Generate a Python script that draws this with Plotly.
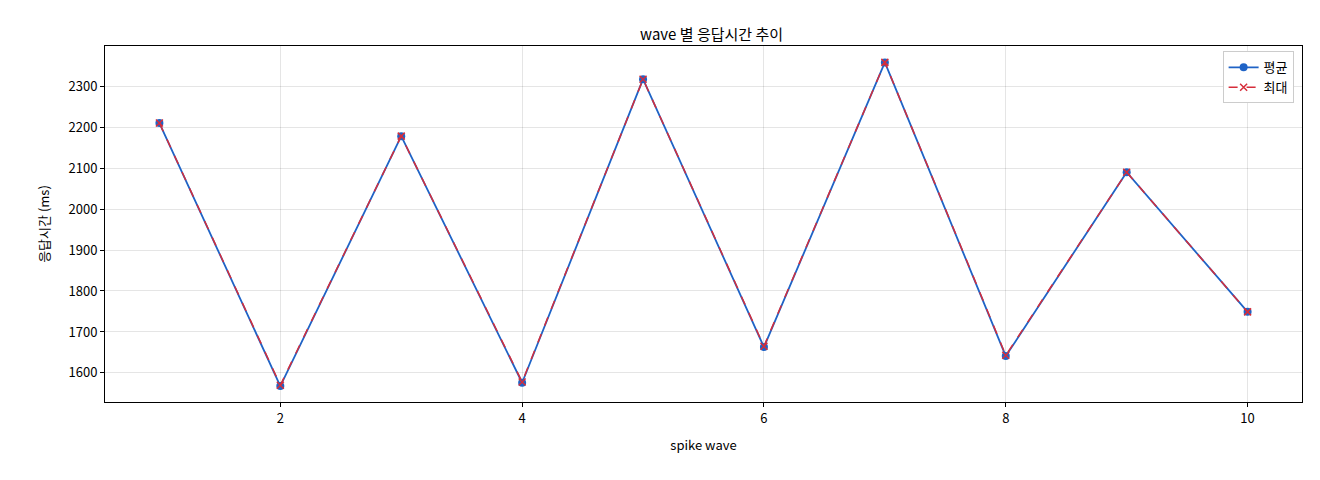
import plotly.graph_objects as go

# wave 별 응답시간
waves = [1, 2, 3, 4, 5, 6, 7, 8, 9, 10]
avg_ms = [2210, 1568, 2178, 1576, 2317, 1663, 2358, 1641, 2090, 1749]
max_ms = [2210, 1570, 2178, 1578, 2317, 1665, 2358, 1643, 2090, 1749]

font = "Noto Sans CJK KR"

fig = go.Figure()
fig.add_trace(go.Scatter(x=waves, y=avg_ms, name="평균", mode="lines+markers",
                         line=dict(color="#1f63c6", width=1.8),
                         marker=dict(symbol="circle", size=8, color="#1f63c6")))
fig.add_trace(go.Scatter(x=waves, y=max_ms, name="최대", mode="lines+markers",
                         line=dict(color="#d62d3a", width=1.5, dash="dash"),
                         marker=dict(symbol="x-thin", size=7,
                                     line=dict(color="#d62d3a", width=1.5))))

axis = dict(showline=True, mirror=True, linecolor="black", linewidth=1,
            ticks="outside", ticklen=4, tickcolor="black",
            showgrid=True, gridcolor="rgba(0,0,0,0.1)", zeroline=False,
            tickfont=dict(size=13, color="black"))

fig.update_layout(
    width=1320, height=480,
    paper_bgcolor="white", plot_bgcolor="white",
    font=dict(family=font, color="black"),
    title=dict(text="wave 별 응답시간 추이", x=0.533, xanchor="center", y=0.955,
               font=dict(size=15)),
    margin=dict(l=97, r=26, t=38, b=86),
    xaxis=dict(axis, range=[0.55, 10.45], tickvals=[2, 4, 6, 8, 10],
               title=dict(text="spike wave", font=dict(size=13))),
    yaxis=dict(axis, range=[1529, 2398], dtick=100,
               title=dict(text="응답시간 (ms)", font=dict(size=13))),
    legend=dict(x=0.993, y=0.985, xanchor="right", yanchor="top",
                bordercolor="#cccccc", borderwidth=1, bgcolor="white",
                font=dict(size=13)),
)

fig.write_html("out.html")
